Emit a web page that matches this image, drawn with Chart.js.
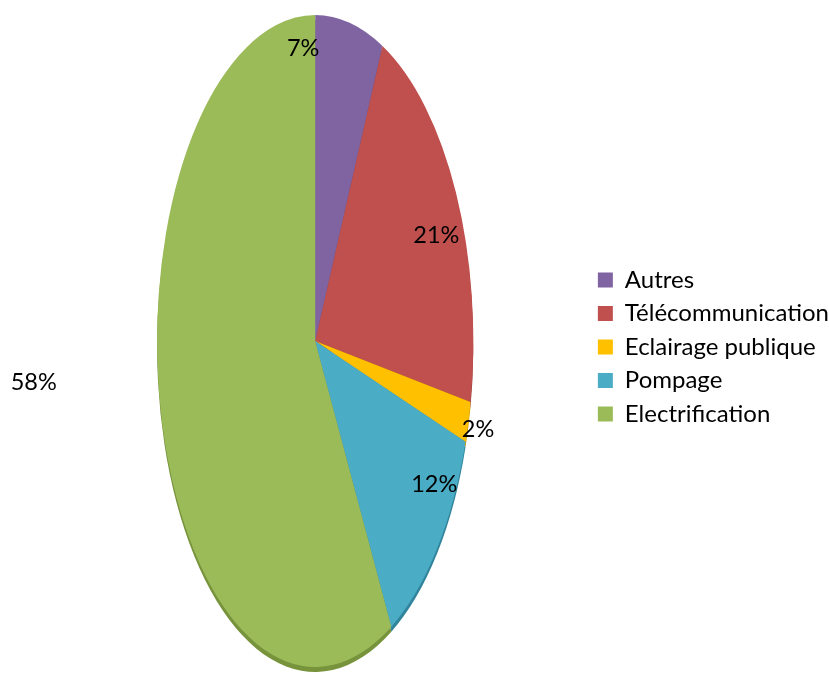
<!DOCTYPE html>
<html>
<head>
<meta charset="utf-8">
<script src="https://cdn.jsdelivr.net/npm/chart.js@4/dist/chart.umd.min.js"></script>
<style>
  html, body { margin: 0; padding: 0; background: #fff; }
  #wrap { width: 829px; height: 677px; }
</style>
</head>
<body>
<div id="wrap"><canvas id="c" width="829" height="677"></canvas></div>
<script>
// Répartition des usages
const categories = ['Autres', 'Télécommunication', 'Eclairage publique', 'Pompage', 'Electrification'];
const shares = [7, 21, 2, 12, 58];
const percentLabels = ['7%', '21%', '2%', '12%', '58%'];
const sliceColors = ['#8064a2', '#c0504d', '#ffc000', '#4bacc6', '#9bbb59'];
const edgeColors = ['#5f4b7a', '#943c3a', '#c99700', '#31849b', '#77933c'];

// Label anchors expressed relative to the ellipse radii (x in rx, y in ry)
const labelSpots = [[-0.076, -0.896], [0.766, -0.323], [1.03, 0.271], [0.753, 0.44], [-1.78, 0.127]];

const ASPECT = 0.485;   // horizontal / vertical radius of the tilted pie
const DEPTH = 5;        // thickness of the pie edge, px

function ellipseFrame(chart) {
  const arc = chart.getDatasetMeta(0).data[0];
  const area = chart.chartArea;
  const cx = arc.x, cy = arc.y, r = arc.outerRadius;
  const ry = (area.bottom - area.top) / 2;
  const rx = ry * ASPECT;
  return { cx, cy, r, rx, ry };
}

function applyEllipse(ctx, f) {
  ctx.translate(f.cx, f.cy);
  ctx.scale(f.rx / f.r, f.ry / f.r);
  ctx.translate(-f.cx, -f.cy);
}

const tiltedPie = {
  id: 'tiltedPie',
  beforeDatasetsDraw(chart) {
    const ctx = chart.ctx;
    const f = ellipseFrame(chart);
    const meta = chart.getDatasetMeta(0);
    // edge of the disc, seen below the top face
    ctx.save();
    ctx.translate(0, DEPTH);
    applyEllipse(ctx, f);
    meta.data.forEach((a, i) => {
      ctx.beginPath();
      ctx.moveTo(f.cx, f.cy);
      ctx.arc(f.cx, f.cy, f.r, a.startAngle, a.endAngle);
      ctx.closePath();
      ctx.fillStyle = edgeColors[i];
      ctx.fill();
    });
    ctx.restore();
    ctx.save();
    applyEllipse(ctx, f);
  },
  afterDatasetsDraw(chart) {
    const ctx = chart.ctx;
    ctx.restore();
    const f = ellipseFrame(chart);
    ctx.save();
    ctx.font = '23.5px Lato';
    ctx.fillStyle = '#000';
    ctx.textAlign = 'center';
    ctx.textBaseline = 'middle';
    percentLabels.forEach((t, i) => {
      const [nx, ny] = labelSpots[i];
      ctx.fillText(t, f.cx + nx * f.rx, f.cy + ny * f.ry);
    });
    ctx.restore();
  }
};

new Chart(document.getElementById('c'), {
  type: 'pie',
  data: {
    labels: categories,
    datasets: [{
      data: shares,
      backgroundColor: sliceColors,
      borderWidth: 0,
      hoverOffset: 0
    }]
  },
  options: {
    responsive: false,
    animation: false,
    events: [],
    layout: { padding: { top: 15, bottom: 10, left: 42, right: -10 } },
    plugins: {
      tooltip: { enabled: false },
      legend: {
        position: 'right',
        title: { display: true, text: '', font: { size: 1 }, padding: { top: 11, bottom: 0 } },
        labels: {
          boxWidth: 15,
          boxHeight: 15,
          padding: 9.5,
          color: '#000',
          font: { family: 'Lato', size: 24 }
        }
      }
    }
  },
  plugins: [tiltedPie]
});
</script>
</body>
</html>
